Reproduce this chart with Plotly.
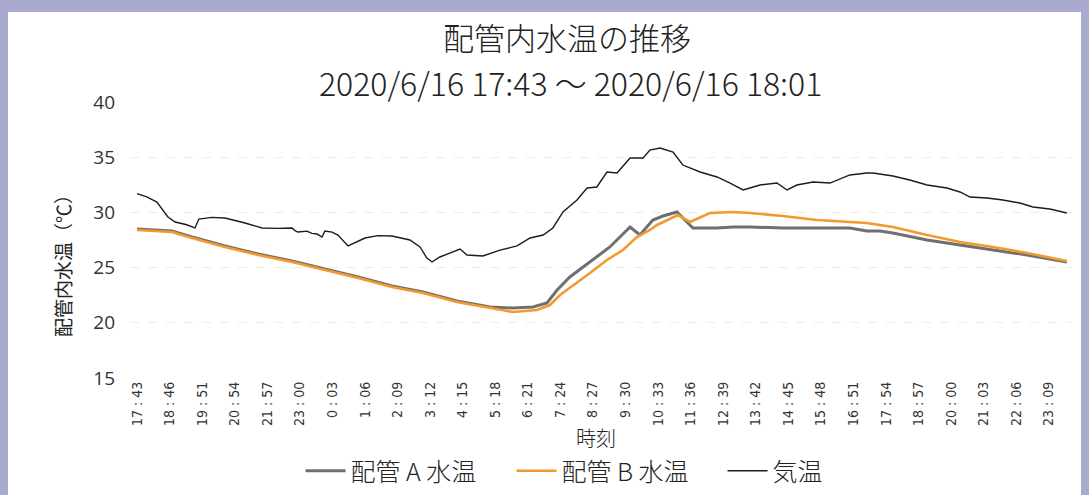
import plotly.graph_objects as go

# ---- data (x = position in units of tick interval, 0 = first tick label) ----
tick_labels = ["17 : 43", "18 : 46", "19 : 51", "20 : 54", "21 : 57", "23 : 00", "0 : 03",
               "1 : 06", "2 : 09", "3 : 12", "4 : 15", "5 : 18", "6 : 21", "7 : 24",
               "8 : 27", "9 : 30", "10 : 33", "11 : 36", "12 : 39", "13 : 42", "14 : 45",
               "15 : 48", "16 : 51", "17 : 54", "18 : 57", "20 : 00", "21 : 03", "22 : 06",
               "23 : 09"]
tick_pos = list(range(len(tick_labels)))

air_x = [0.00, 0.30, 0.61, 0.95, 1.17, 1.50, 1.78, 1.90, 2.30, 2.70, 3.32, 3.84, 4.30, 4.76,
         4.85, 4.94, 5.22, 5.37, 5.53, 5.68, 5.77, 5.99, 6.17, 6.48, 7.00, 7.40, 7.83, 8.38,
         8.69, 8.90, 9.06, 9.30, 9.92, 10.13, 10.62, 11.15, 11.67, 12.07, 12.47, 12.77, 13.08,
         13.51, 13.82, 14.12, 14.43, 14.74, 15.14, 15.54, 15.75, 16.06, 16.46, 16.76, 17.29,
         17.81, 18.21, 18.61, 18.82, 19.13, 19.65, 19.96, 20.26, 20.76, 21.28, 21.89, 22.41,
         22.60, 23.21, 23.73, 24.26, 24.87, 25.27, 25.58, 26.10, 26.59, 27.11, 27.51, 28.03,
         28.55]
air_y = [31.70, 31.40, 30.94, 29.58, 29.13, 28.90, 28.59, 29.40, 29.55, 29.49, 29.04, 28.59,
         28.55, 28.59, 28.35, 28.22, 28.30, 28.10, 28.04, 27.77, 28.32, 28.22, 27.95, 26.96,
         27.68, 27.90, 27.86, 27.50, 26.87, 25.87, 25.51, 25.96, 26.68, 26.14, 26.05, 26.59,
         26.96, 27.68, 27.95, 28.59, 30.04, 31.12, 32.21, 32.30, 33.66, 33.57, 34.93, 34.93,
         35.65, 35.83, 35.47, 34.29, 33.66, 33.21, 32.66, 32.03, 32.21, 32.48, 32.66, 32.03,
         32.48, 32.75, 32.66, 33.39, 33.57, 33.57, 33.30, 32.93, 32.48, 32.21, 31.85, 31.39,
         31.30, 31.12, 30.85, 30.49, 30.31, 29.95]

pipe_a_x = [0.00, 1.07, 1.69, 2.70, 3.72, 4.76, 5.77, 6.79, 7.83, 8.78, 9.82, 10.84, 11.54,
            12.16, 12.59, 12.90, 13.29, 13.69, 14.12, 14.52, 15.14, 15.44, 15.84, 16.15, 16.58,
            16.76, 17.07, 17.81, 18.30, 18.82, 19.83, 20.88, 21.89, 22.41, 22.81, 23.21, 24.26,
            25.27, 26.28, 27.33, 28.55]
pipe_a_y = [28.50, 28.32, 27.77, 26.96, 26.23, 25.60, 24.87, 24.15, 23.33, 22.79, 21.97, 21.43,
            21.34, 21.43, 21.79, 22.97, 24.15, 25.05, 25.96, 26.87, 28.68, 27.95, 29.31, 29.67,
            30.04, 29.49, 28.59, 28.59, 28.68, 28.68, 28.59, 28.59, 28.59, 28.32, 28.32, 28.13,
            27.50, 27.05, 26.59, 26.14, 25.51]

pipe_b_x = [0.00, 1.07, 1.69, 2.70, 3.72, 4.76, 5.77, 6.79, 7.83, 8.78, 9.82, 10.84, 11.54,
            12.28, 12.68, 12.99, 13.51, 13.91, 14.43, 14.92, 15.35, 15.75, 15.97, 16.15, 16.61,
            16.98, 17.59, 18.30, 18.82, 19.83, 20.88, 21.89, 22.41, 23.21, 24.26, 25.27, 26.28,
            27.33, 28.55]
pipe_b_y = [28.41, 28.22, 27.68, 26.87, 26.14, 25.51, 24.78, 24.06, 23.24, 22.70, 21.88, 21.34,
            20.98, 21.16, 21.61, 22.52, 23.60, 24.51, 25.69, 26.59, 27.77, 28.41, 28.86, 29.13,
            29.76, 29.13, 29.95, 30.04, 29.95, 29.67, 29.31, 29.13, 29.04, 28.68, 27.95, 27.32,
            26.87, 26.32, 25.60]

y_ticks = [15, 20, 25, 30, 35, 40]

# ---- layout geometry (pixels) ----
W, H = 1089, 495
PL, PR, PT, PB = 130, 1072, 102, 378


def px(x):
    return (x - PL) / (PR - PL)


def py(y):
    return (PB - y) / (PB - PT)


JP = "Noto Sans CJK JP"

fig = go.Figure()
fig.add_trace(go.Scatter(x=pipe_a_x, y=pipe_a_y, mode="lines", name="配管 A 水温",
                         line=dict(color="#6f6f6f", width=3)))
fig.add_trace(go.Scatter(x=pipe_b_x, y=pipe_b_y, mode="lines", name="配管 B 水温",
                         line=dict(color="#f29a30", width=2.6)))
fig.add_trace(go.Scatter(x=air_x, y=air_y, mode="lines", name="気温",
                         line=dict(color="#1c1c1c", width=1.4)))

lav = "#a9aacf"
shapes = [
    dict(type="rect", xref="paper", yref="paper", x0=px(0), x1=px(W), y0=py(12), y1=py(0),
         fillcolor=lav, line=dict(width=0)),
    dict(type="rect", xref="paper", yref="paper", x0=px(0), x1=px(8), y0=py(H), y1=py(0),
         fillcolor=lav, line=dict(width=0)),
    dict(type="rect", xref="paper", yref="paper", x0=px(1081), x1=px(W), y0=py(H), y1=py(0),
         fillcolor=lav, line=dict(width=0)),
]

annotations = [
    dict(text="配管内水温の推移", x=px(567), y=py(36), xref="paper", yref="paper",
         showarrow=False, xanchor="center", yanchor="middle",
         font=dict(family=JP, size=31, color="#222222", weight=300)),
    dict(text="2020/6/16 17:43 ～ 2020/6/16 18:01", x=px(570), y=py(82), xref="paper",
         yref="paper", showarrow=False, xanchor="center", yanchor="middle",
         font=dict(family=JP, size=32, color="#222222", weight=300)),
    dict(text="配管内水温（℃）", x=px(62), y=py(261), xref="paper", yref="paper",
         showarrow=False, textangle=-90, xanchor="center", yanchor="middle",
         font=dict(family=JP, size=19, color="#222222")),
    dict(text="時刻", x=px(596), y=py(437), xref="paper", yref="paper",
         showarrow=False, xanchor="center", yanchor="middle",
         font=dict(family=JP, size=20, color="#222222", weight=300)),
]

fig.update_layout(
    width=W, height=H,
    margin=dict(l=PL, r=W - PR, t=PT, b=H - PB, pad=0, autoexpand=False),
    paper_bgcolor="white", plot_bgcolor="white",
    shapes=shapes, annotations=annotations,
    showlegend=True,
    legend=dict(orientation="h", x=617 / W, y=1 - 471 / H, xref="container",
                yref="container", xanchor="center", yanchor="middle",
                font=dict(family=JP, size=25, color="#222222", weight=300), itemwidth=40,
                entrywidth=156, entrywidthmode="pixels",
                bgcolor="rgba(0,0,0,0)"),
    xaxis=dict(range=[-0.215, 28.71], tickmode="array", tickvals=tick_pos,
               ticktext=tick_labels, tickangle=-90, showgrid=False, zeroline=False,
               showline=False, ticks="", automargin=False,
               tickfont=dict(family="Liberation Sans Narrow, DejaVu Sans Condensed", size=14,
                             color="#333333")),
    yaxis=dict(range=[15, 40], tickmode="array", tickvals=y_ticks, showgrid=True,
               gridcolor="#ececec", griddash="dash", gridwidth=1, zeroline=False,
               showline=False, ticks="", ticklabelstandoff=14, automargin=False,
               tickfont=dict(family="Open Sans", size=19, color="#333333")),
)

fig.write_html("out.html", config={"displayModeBar": False},
               post_script="document.body.style.margin='0';document.body.style.overflow='hidden';")
